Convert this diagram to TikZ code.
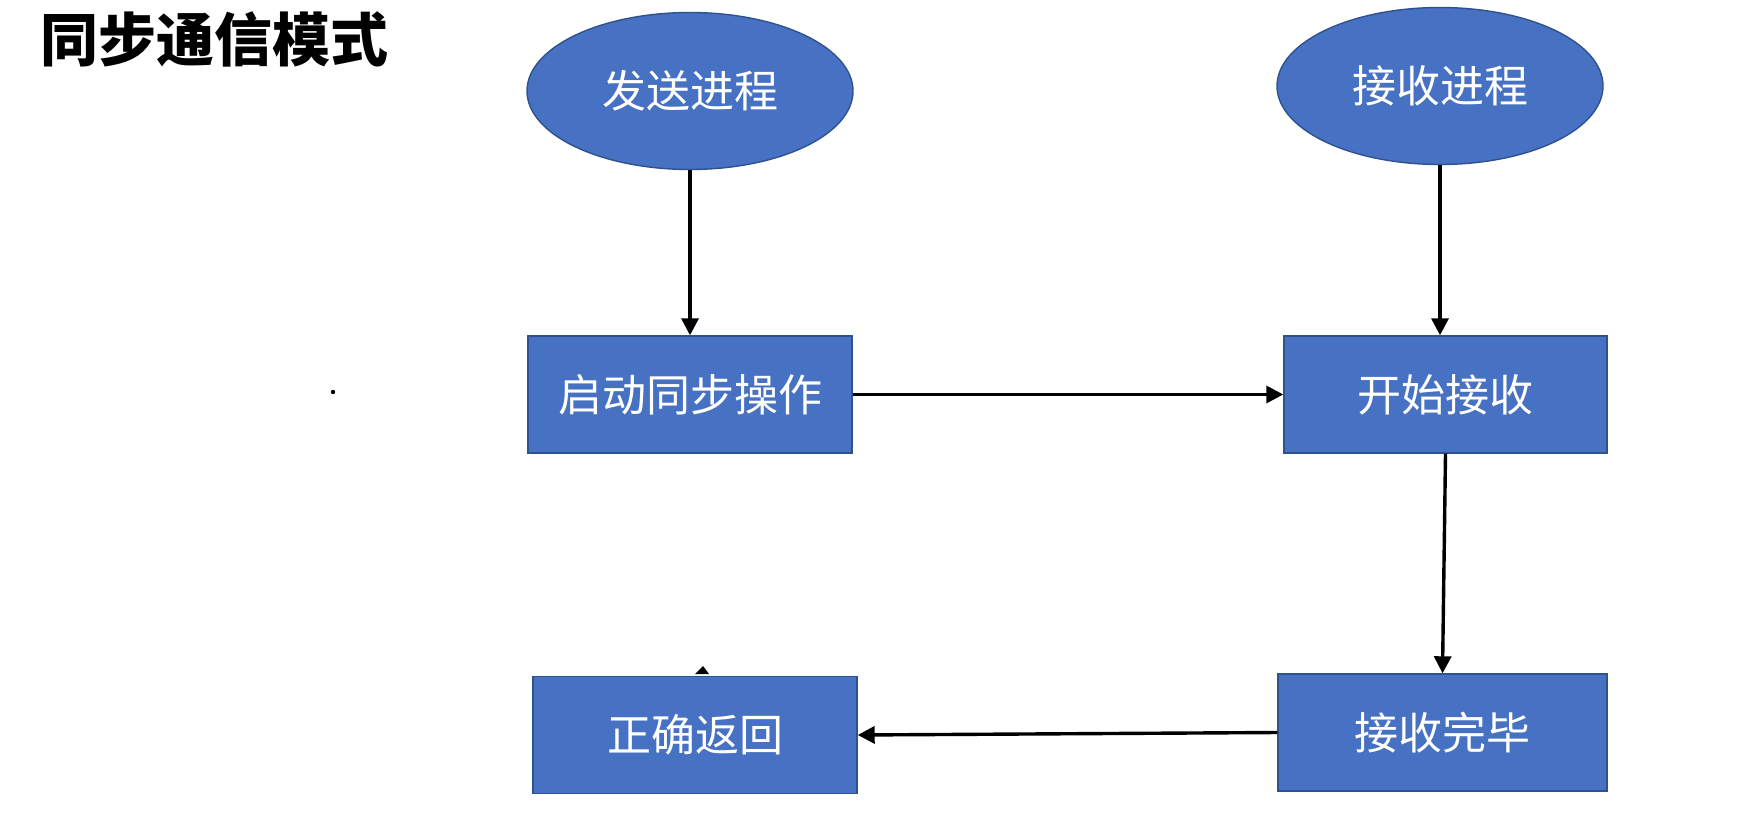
\documentclass[tikz,border=0pt]{standalone}
\usepackage{fontspec}
\setmainfont{Noto Sans CJK SC}
\usetikzlibrary{shapes.geometric,arrows.meta}
\definecolor{boxblue}{HTML}{4771C2}
\definecolor{boxedge}{HTML}{2F528F}
\begin{document}
\begin{tikzpicture}[x=1pt,y=-1pt,
  blk/.style={draw=boxedge,line width=1.4pt,fill=boxblue,text=white,font=\fontsize{44}{50}\selectfont,inner sep=0pt},
  procnode/.style={blk,ellipse,minimum width=326pt,minimum height=157pt},
  boxnode/.style={blk,rectangle,minimum height=117pt},
  conn/.style={line width=3.4pt,-{Triangle[length=17pt,width=17pt]}}]
\useasboundingbox[fill=white] (0,0) rectangle (1740,819);
\node[font=\fontsize{58}{64}\selectfont\bfseries] (title) at (214,39) {同步通信模式};
\node[procnode] (send) at (690,91) {发送进程};
\node[procnode] (recv) at (1440,86) {接收进程};
\node[boxnode,minimum width=324pt] (start) at (690,394.5) {启动同步操作};
\node[boxnode,minimum width=323pt] (begin) at (1445.5,394.5) {开始接收};
\node[boxnode,minimum width=324pt] (ret) at (695,735) {正确返回};
\node[boxnode,minimum width=329pt] (done) at (1442.5,732.5) {接收完毕};
\fill (333,392) circle (2.2pt);
\fill (695,674) -- (709,674) -- (703,666) -- cycle;
\draw[conn] (send.south) -- (start.north);
\draw[conn] (recv.south) -- (recv.south |- begin.north);
\draw[conn] (start.east) -- (begin.west);
\draw[conn] (begin.south) -- (done.north);
\draw[conn] (done.west) -- (ret.east);
\end{tikzpicture}
\end{document}
